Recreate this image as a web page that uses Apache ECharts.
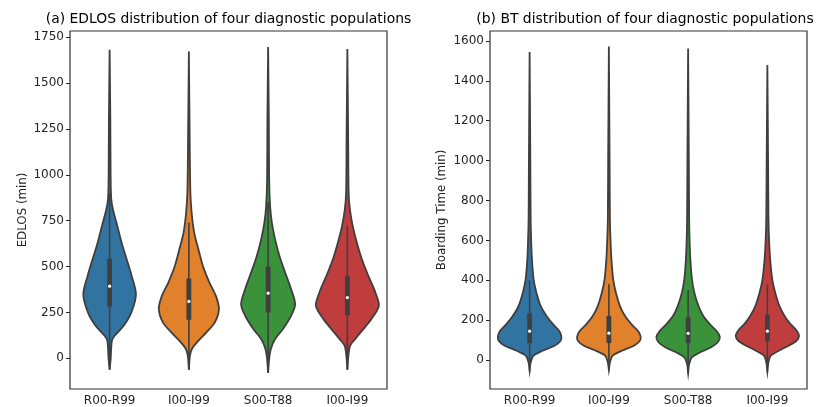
<!DOCTYPE html>
<html>
<head>
<meta charset="utf-8">
<script src="https://cdn.jsdelivr.net/npm/echarts@6/dist/echarts.min.js"></script>
<style>
  html, body { margin: 0; padding: 0; background: #fff; }
  #chart { width: 819px; height: 407px; }
</style>
</head>
<body>
<div id="chart"></div>
<script>
// categories and colours (seaborn palette, desaturated)
const categories = ['R00-R99', 'I00-I99', 'S00-T88', 'I00-I99']
const colors = ['#3274a1', '#e1812c', '#3a923a', '#c03d3e']

// tick labels
const edlosTicks = [0, 250, 500, 750, 1000, 1250, 1500, 1750]
const btTicks = [0, 200, 400, 600, 800, 1000, 1200, 1400, 1600]

// (a) EDLOS: density outline, value levels and half-widths (in category units)
const edlosLevels = [
  [-62, -4, 96, 123, 177, 250, 349, 449, 540, 630, 721, 811, 866, 974, 1300, 1681],
  [-62, 14, 51, 87, 141, 196, 268, 340, 413, 503, 594, 685, 793, 902, 1200, 1672],
  [-80, -4, 51, 105, 159, 232, 295, 377, 467, 558, 648, 739, 829, 974, 1300, 1696],
  [-62, 14, 69, 105, 159, 214, 286, 359, 449, 540, 630, 721, 811, 902, 1200, 1685]
]
const edlosWidths = [
  [0, 0.013, 0.029, 0.063, 0.177, 0.274, 0.332, 0.278, 0.215, 0.151, 0.097, 0.042, 0.021, 0.013, 0.009, 0],
  [0, 0.013, 0.038, 0.101, 0.221, 0.328, 0.379, 0.341, 0.259, 0.177, 0.120, 0.067, 0.035, 0.019, 0.010, 0],
  [0, 0.013, 0.034, 0.088, 0.185, 0.290, 0.341, 0.290, 0.215, 0.143, 0.088, 0.047, 0.025, 0.013, 0.009, 0],
  [0, 0.013, 0.035, 0.098, 0.202, 0.303, 0.397, 0.353, 0.265, 0.183, 0.120, 0.067, 0.032, 0.016, 0.010, 0]
]
const edlosQuartiles = [[283, 393, 543], [210, 310, 435], [250, 355, 500], [235, 331, 449]]
const edlosWhiskers = [[-62, 900], [-62, 740], [-80, 850], [-62, 720]]

// (b) BT
const btLevels = [
  [-54, -12, 22, 47, 72, 97, 119, 147, 180, 222, 272, 339, 406, 506, 607, 707, 1000, 1545],
  [-50, -12, 22, 47, 72, 97, 119, 147, 180, 222, 272, 339, 406, 506, 607, 707, 1000, 1572],
  [-65, -20, 13, 38, 64, 92, 117, 147, 180, 222, 272, 339, 406, 506, 607, 707, 1000, 1562],
  [-58, -12, 22, 47, 72, 97, 122, 150, 184, 222, 272, 339, 406, 506, 607, 707, 1000, 1480]
]
const btWidths = [
  [0, 0.013, 0.048, 0.164, 0.315, 0.391, 0.400, 0.372, 0.294, 0.211, 0.139, 0.085, 0.050, 0.029, 0.019, 0.013, 0.009, 0],
  [0, 0.013, 0.047, 0.164, 0.315, 0.391, 0.400, 0.366, 0.284, 0.202, 0.139, 0.088, 0.054, 0.032, 0.020, 0.013, 0.009, 0],
  [0, 0.013, 0.047, 0.148, 0.290, 0.379, 0.400, 0.357, 0.274, 0.189, 0.130, 0.078, 0.048, 0.028, 0.018, 0.013, 0.009, 0],
  [0, 0.013, 0.042, 0.143, 0.269, 0.366, 0.400, 0.366, 0.284, 0.215, 0.151, 0.098, 0.061, 0.035, 0.021, 0.014, 0.009, 0]
]
const btQuartiles = [[85, 145, 234], [85, 135, 222], [85, 134, 214], [97, 145, 227]]
const btWhiskers = [[-54, 400], [-50, 380], [-65, 350], [-58, 380]]

const gray = '#3f3f3f'
const textColor = '#262626'
const font = 'DejaVu Sans'

function violinRenderer(levels, widths, quartiles, whiskers) {
  return function(params, api) {
    const i = api.value(0)
    const band = api.size([1, 0])[0]
    const right = []
    const left = []
    levels[i].forEach(function(v, k) {
      const p = api.coord([i, v])
      const w = widths[i][k] * band
      right.push([p[0] + w, p[1]])
      left.unshift([p[0] - w, p[1]])
    })
    const lo = api.coord([i, whiskers[i][0]])
    const hi = api.coord([i, whiskers[i][1]])
    const q1 = api.coord([i, quartiles[i][0]])
    const med = api.coord([i, quartiles[i][1]])
    const q3 = api.coord([i, quartiles[i][2]])
    return {
      type: 'group',
      children: [
        {
          type: 'polygon',
          shape: { points: right.concat(left), smooth: 0.3 },
          style: { fill: colors[i], stroke: gray, lineWidth: 1.8 }
        },
        {
          type: 'line',
          shape: { x1: lo[0], y1: lo[1], x2: hi[0], y2: hi[1] },
          style: { stroke: gray, lineWidth: 1.6 }
        },
        {
          type: 'rect',
          shape: { x: q3[0] - 2.4, y: q3[1], width: 4.8, height: q1[1] - q3[1] },
          style: { fill: gray }
        },
        {
          type: 'circle',
          shape: { cx: med[0], cy: med[1], r: 1.6 },
          style: { fill: '#fff' }
        }
      ]
    }
  }
}

function xAxis(gridIndex) {
  return {
    type: 'category',
    gridIndex: gridIndex,
    data: categories,
    boundaryGap: true,
    axisLine: { show: false },
    axisTick: { alignWithLabel: true, length: 4, lineStyle: { color: textColor } },
    axisLabel: { color: textColor, fontFamily: font, fontSize: 12, margin: 6 },
    splitLine: { show: false }
  }
}

function yAxis(gridIndex, name, min, max, ticks, gap) {
  return {
    type: 'value',
    gridIndex: gridIndex,
    name: name,
    nameLocation: 'middle',
    nameGap: gap,
    nameTextStyle: { color: textColor, fontFamily: font, fontSize: 11.8 },
    min: min,
    max: max,
    axisLine: { show: false },
    axisTick: { show: true, length: 4, customValues: ticks, lineStyle: { color: textColor } },
    axisLabel: {
      color: textColor, fontFamily: font, fontSize: 12, margin: 6, customValues: ticks,
      formatter: function(v) { return String(v) }
    },
    splitLine: { show: false }
  }
}

const myChart = echarts.init(document.getElementById('chart'))
const option = {
  animation: false,
  backgroundColor: '#fff',
  graphic: [
    {
      type: 'text', x: 228.5, y: 19,
      style: {
        text: '(a) EDLOS distribution of four diagnostic populations',
        fill: '#000', font: '13.9px "DejaVu Sans"', textAlign: 'center', textVerticalAlign: 'middle'
      }
    },
    {
      type: 'text', x: 645, y: 19,
      style: {
        text: '(b) BT distribution of four diagnostic populations',
        fill: '#000', font: '13.9px "DejaVu Sans"', textAlign: 'center', textVerticalAlign: 'middle'
      }
    }
  ],
  grid: [
    { left: 70, top: 31, width: 317, height: 359, show: true, borderColor: '#333', borderWidth: 1.2, backgroundColor: 'transparent' },
    { left: 490, top: 31, width: 317, height: 359, show: true, borderColor: '#333', borderWidth: 1.2, backgroundColor: 'transparent' }
  ],
  xAxis: [xAxis(0), xAxis(1)],
  yAxis: [
    yAxis(0, 'EDLOS (min)', -167, 1783, edlosTicks, 41),
    yAxis(1, 'Boarding Time (min)', -145, 1650, btTicks, 42)
  ],
  series: [
    {
      type: 'custom',
      xAxisIndex: 0,
      yAxisIndex: 0,
      data: [[0], [1], [2], [3]],
      encode: { x: 0 },
      renderItem: violinRenderer(edlosLevels, edlosWidths, edlosQuartiles, edlosWhiskers)
    },
    {
      type: 'custom',
      xAxisIndex: 1,
      yAxisIndex: 1,
      data: [[0], [1], [2], [3]],
      encode: { x: 0 },
      renderItem: violinRenderer(btLevels, btWidths, btQuartiles, btWhiskers)
    }
  ]
}
myChart.setOption(option)
window.addEventListener('resize', function() {
  myChart.resize()
})
</script>
</body>
</html>
